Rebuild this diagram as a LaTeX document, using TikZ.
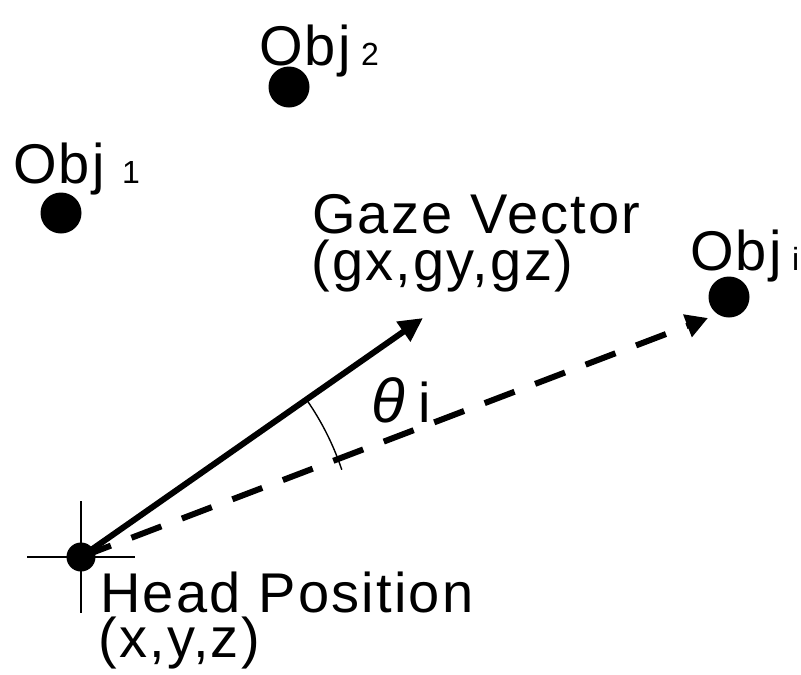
\documentclass[tikz,border=0pt]{standalone}
\usepackage{fontspec}
\setmainfont{Liberation Sans}
\newfontfamily\lblfont[LetterSpace=4]{Liberation Sans}
\usetikzlibrary{arrows.meta}
\begin{document}
\begin{tikzpicture}[x=1pt,y=-1pt,
  lbl/.style={anchor=base west, inner sep=0pt, font=\lblfont\fontsize{56}{60}\selectfont},
  sublbl/.style={anchor=base west, inner sep=0pt, font=\fontsize{32}{36}\selectfont},
  objdot/.style={circle, fill=black, minimum size=41pt, inner sep=0pt},
  headdot/.style={circle, fill=black, minimum size=29pt, inner sep=0pt},
  thinln/.style={line width=1.4pt},
  gazearrow/.style={line width=6pt, -{Triangle[length=24pt,width=23pt]}},
  objarrow/.style={line width=6pt, dash pattern=on 32pt off 22pt, -{Triangle[length=22pt,width=23pt]}}
]
\useasboundingbox (0,0) rectangle (801,675);

% objects
\node[objdot] (o1) at (61,213) {};
\node[objdot] (o2) at (289,87) {};
\node[objdot] (oi) at (729,297) {};
\node[lbl] (o1t) at (13,183) {Obj};
\node[sublbl] (o1s) at (122,183) {1};
\node[lbl] (o2t) at (259,65) {Obj};
\node[sublbl] (o2s) at (361,65) {2};
\node[lbl] (oit) at (690,270) {Obj};
\node[sublbl] (ois) at (792,270) {i};

% head
\node[headdot] (head) at (81,557) {};
\coordinate (cl) at (27,557);
\coordinate (cr) at (135,557);
\coordinate (ct) at (81,501);
\coordinate (cb) at (81,613);
\draw[thinln] (cl) -- (cr);
\draw[thinln] (ct) -- (cb);

% vectors
\coordinate (gtip) at (423,318);
\coordinate (dtip) at (708,318);
\draw[gazearrow] (head.center) -- (gtip);
\draw[objarrow] (head.center) -- (dtip);

% angle arc
\draw[thinln] (head.center) ++(-35:275) arc[start angle=-35, end angle=-18.5, radius=275];
\node[anchor=base west, inner sep=0pt, font=\fontsize{62}{66}\selectfont] (theta) at (371,422) {\textit{θ}\kern 14pt\fontsize{56}{60}\selectfont i};

% labels
\node[lbl] (gaze) at (312,233) {Gaze Vector};
\node[lbl] (gazec) at (311,280) {(gx,gy,gz)};
\node[lbl] (headt) at (100,612) {Head Position};
\node[lbl] (headc) at (98,657) {(x,y,z)};
\end{tikzpicture}
\end{document}
